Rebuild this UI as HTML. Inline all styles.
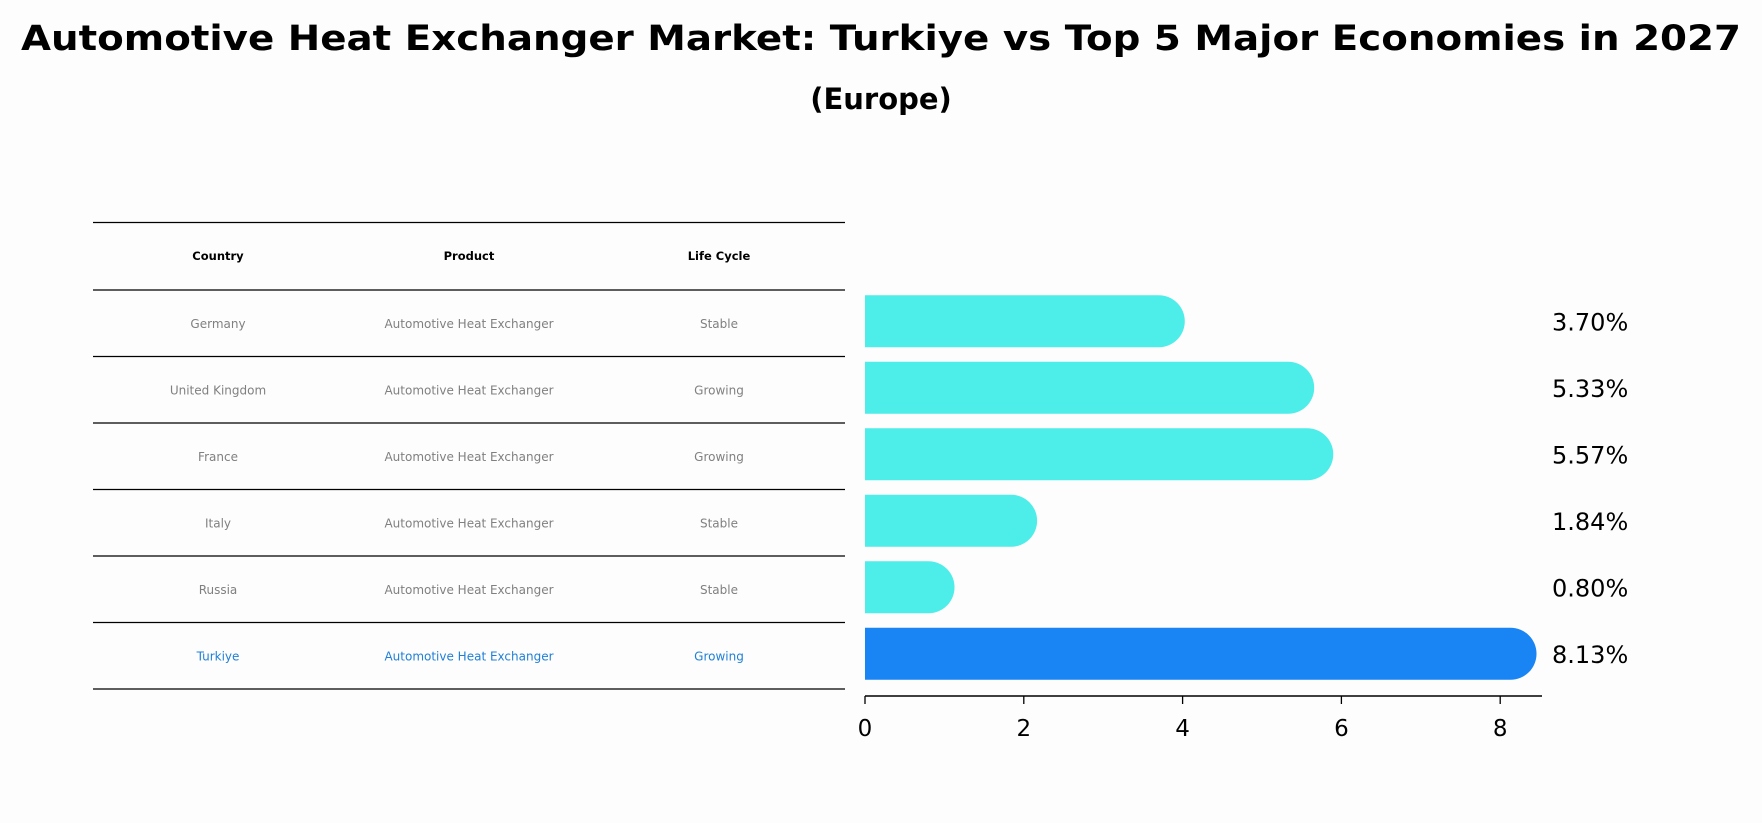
<!DOCTYPE html>
<html><head><meta charset="utf-8"><style>
html,body{margin:0;padding:0;background:#fdfdfd;}
svg{display:block;font-family:"DejaVu Sans","Liberation Sans",sans-serif;}
</style></head><body>
<svg id="chart" width="1762" height="823" viewBox="0 0 1762 823">
<rect x="0" y="0" width="1762" height="823" fill="#fdfdfd"/>
<text x="881" y="50" text-anchor="middle" font-size="35" font-weight="bold" textLength="1720" lengthAdjust="spacingAndGlyphs">Automotive Heat Exchanger Market: Turkiye vs Top 5 Major Economies in 2027</text>
<text x="881" y="109" text-anchor="middle" font-size="29" font-weight="bold">(Europe)</text>
<g id="table"></g>
<g id="bars"></g>
</svg>
<script>
const countries = ["Germany","United Kingdom","France","Italy","Russia","Turkiye"];
const products = ["Automotive Heat Exchanger","Automotive Heat Exchanger","Automotive Heat Exchanger","Automotive Heat Exchanger","Automotive Heat Exchanger","Automotive Heat Exchanger"];
const lifeCycles = ["Stable","Growing","Growing","Stable","Stable","Growing"];
const values = [3.70,5.33,5.57,1.84,0.80,8.13];
const valueLabels = ["3.70%","5.33%","5.57%","1.84%","0.80%","8.13%"];
const tickValues = [0,2,4,6,8];
const headers = ["Country","Product","Life Cycle"];

const NS="http://www.w3.org/2000/svg";
function mk(tag,attrs,parent){const e=document.createElementNS(NS,tag);for(const k in attrs)e.setAttribute(k,attrs[k]);parent.appendChild(e);return e;}
const X0=865, UNIT=79.4;
const xScale=v=>X0+v*UNIT;
const rowTop=290, rowH=66.5;
const yCenter=i=>rowTop+rowH*(i+0.5);

// table
const tbl=document.getElementById('table');
const colX=[218,469,719];
const lineYs=[222.5];
for(let i=0;i<=countries.length;i++)lineYs.push(rowTop+rowH*i);
lineYs.forEach((y,i)=>{
  const l=mk('line',{x1:93,x2:845,y1:y,y2:y,stroke:'#000','stroke-width':1.2},tbl);
  
  
});
headers.forEach((h,j)=>{
  const t=mk('text',{x:colX[j],y:260,'text-anchor':'middle','font-size':11.5,'font-weight':'bold'},tbl);
  t.textContent=h;
  
  
});
countries.forEach((c,i)=>{
  const isT=c==="Turkiye";
  const fill=isT?'#1f7fd8':'#808080';
  [c,products[i],lifeCycles[i]].forEach((txt,j)=>{
    const t=mk('text',{x:colX[j],y:yCenter(i)+4.5,'text-anchor':'middle','font-size':12,fill:fill},tbl);
    t.textContent=txt;
    
    
  });
});

// bars
const g=document.getElementById('bars');
const BH=52;
values.forEach((v,i)=>{
  const isT=countries[i]==="Turkiye";
  const col=isT?'#1985f5':'#4dede9';
  const yc=yCenter(i)-2;
  const x1=xScale(v), r=BH/2;
  const p=mk('path',{d:`M${X0},${yc-r} L${x1},${yc-r} A${r},${r} 0 0 1 ${x1},${yc+r} L${X0},${yc+r} Z`,fill:col},g);
  
  
  const t=mk('text',{x:1552,y:yc+9,'font-size':24},g);
  t.textContent=valueLabels[i];
  
  
});
const ax=mk('line',{x1:X0,x2:1542,y1:696,y2:696,stroke:'#000','stroke-width':1.6},g);


tickValues.forEach(v=>{
  const x=xScale(v);
  const tk=mk('line',{x1:x,x2:x,y1:696,y2:704,stroke:'#000','stroke-width':1.3},g);
  
  
  const t=mk('text',{x:x,y:736,'text-anchor':'middle','font-size':23},g);
  t.textContent=String(v);
  
  
});
</script>
</body></html>
